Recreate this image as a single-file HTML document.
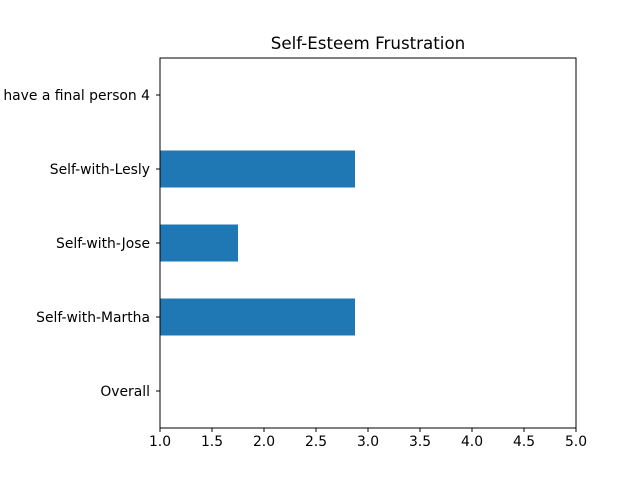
<!DOCTYPE html>
<html><head><meta charset="utf-8"><style>
body{margin:0;background:#fff;}
svg{display:block;font-family:"DejaVu Sans","Liberation Sans",sans-serif;}
</style></head><body>
<svg id="chart" width="640" height="480">
<rect width="640" height="480" fill="#fff"/>
<text x="368" y="49" font-size="16.7" text-anchor="middle" fill="#000">Self-Esteem Frustration</text>
<g id="bars"></g>
<g id="xticks"></g>
<g id="yticks"></g>
<rect x="160" y="58" width="416" height="370" fill="none" stroke="#000" stroke-width="1"/>
</svg>
<script>
const categories = ["Overall","Self-with-Martha","Self-with-Jose","Self-with-Lesly","have a final person 4"];
const values = [0, 2.875, 1.75, 2.875, 0];
const xTickLabels = ["1.0","1.5","2.0","2.5","3.0","3.5","4.0","4.5","5.0"];
const xMin = 1, xMax = 5;
const L=160,R=576,T=58,B=428;
const ns="http://www.w3.org/2000/svg";
function xs(v){return L+(v-xMin)/(xMax-xMin)*(R-L);}
function ys(i){return B-(i+0.5)/categories.length*(B-T);}
const bandH=(B-T)/categories.length;
const bars=document.getElementById('bars');
values.forEach((v,i)=>{
  const x0=xs(Math.max(0,xMin)), x1=xs(Math.max(v,xMin));
  if(x1<=x0) return;
  const r=document.createElementNS(ns,'rect');
  r.setAttribute('x',x0);r.setAttribute('width',x1-x0);
  r.setAttribute('y',ys(i)-bandH*0.25);r.setAttribute('height',bandH*0.5);
  r.setAttribute('fill','#1f77b4');
  
  
  bars.appendChild(r);
});
const xt=document.getElementById('xticks');
xTickLabels.forEach(l=>{
  const x=xs(parseFloat(l));
  const ln=document.createElementNS(ns,'line');
  ln.setAttribute('x1',x);ln.setAttribute('x2',x);ln.setAttribute('y1',B);ln.setAttribute('y2',B+4);
  ln.setAttribute('stroke','#000');
  
  
  xt.appendChild(ln);
  const t=document.createElementNS(ns,'text');
  t.setAttribute('x',x);t.setAttribute('y',B+18);t.setAttribute('font-size','13.9');t.setAttribute('text-anchor','middle');
  t.textContent=l;
  
  
  xt.appendChild(t);
});
const yt=document.getElementById('yticks');
categories.forEach((c,i)=>{
  const y=ys(i);
  const ln=document.createElementNS(ns,'line');
  ln.setAttribute('x1',L-4);ln.setAttribute('x2',L);ln.setAttribute('y1',y);ln.setAttribute('y2',y);
  ln.setAttribute('stroke','#000');
  
  
  yt.appendChild(ln);
  const t=document.createElementNS(ns,'text');
  t.setAttribute('x',L-10);t.setAttribute('y',y+5);t.setAttribute('font-size','13.9');t.setAttribute('text-anchor','end');
  t.textContent=c;
  
  
  yt.appendChild(t);
});
</script>
</body></html>
